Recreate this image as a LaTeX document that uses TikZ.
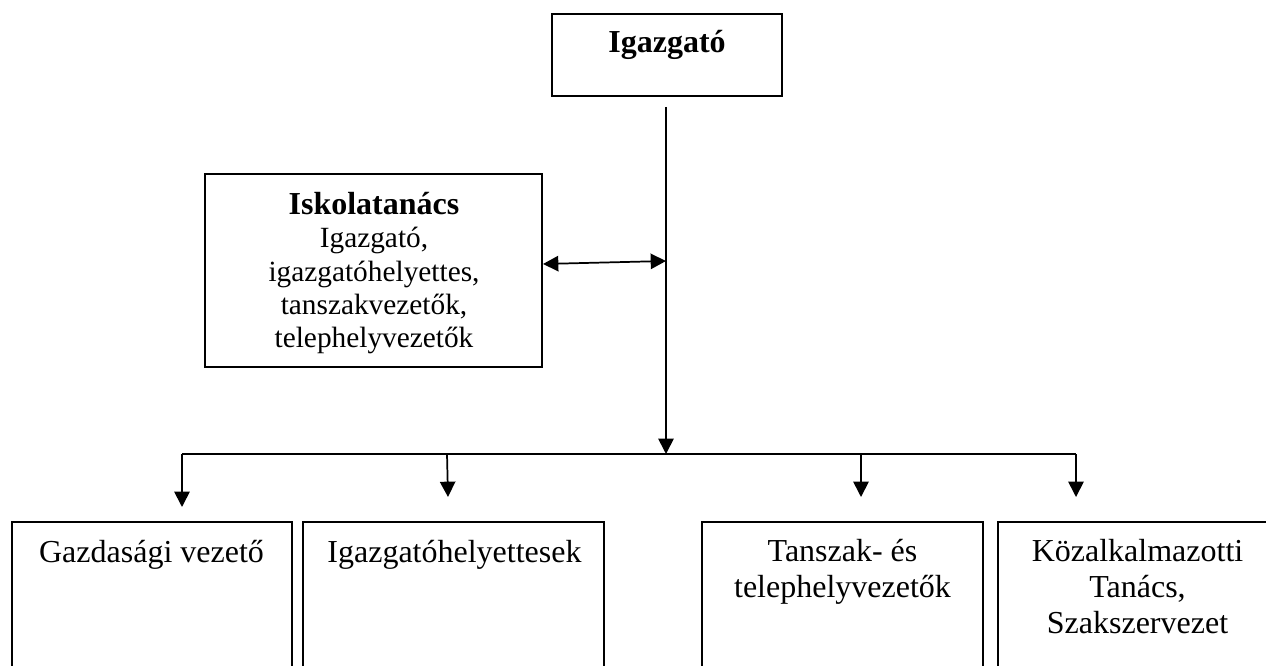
\documentclass[tikz,border=0pt]{standalone}
\usepackage{fontspec}
\setmainfont{Liberation Serif}
\usetikzlibrary{arrows.meta}
\begin{document}
\begin{tikzpicture}[x=0.75pt,y=-0.75pt,
  box/.style={draw,line width=1.1pt,inner sep=0pt},
  conn/.style={line width=1.3pt},
  arr/.style={line width=1.3pt,-{Triangle[width=11.5pt,length=11.5pt]}},
  darr/.style={line width=1.3pt,{Triangle[width=11.5pt,length=11.5pt]}-{Triangle[width=11.5pt,length=11.5pt]}},
  big/.style={font=\fontsize{24}{27}\selectfont,align=center,inner sep=0pt},
  small/.style={font=\fontsize{22}{25}\selectfont,align=center,inner sep=0pt}]
\path[use as bounding box,clip] (0,0) rectangle (1266,666);
\fill[white] (0,0) rectangle (1266,666);
% boxes
\node[box,minimum width=172.5pt,minimum height=61.5pt] (dir) at (667,55) {};
\node[box,minimum width=252.75pt,minimum height=144.75pt] (isk) at (373.5,270.5) {};
\node[box,minimum width=210pt,minimum height=150pt] (b1) at (152,622) {};
\node[box,minimum width=225.75pt,minimum height=150pt] (b2) at (453.5,622) {};
\node[box,minimum width=210.75pt,minimum height=150pt] (b3) at (842.5,622) {};
\node[box,minimum width=209.25pt,minimum height=150pt] (b4) at (1137.5,622) {};
% texts (anchor=base is the baseline of the last line)
\node[big,anchor=base,font=\fontsize{24}{27}\selectfont\bfseries] (tdir) at (667,53) {Igazgató};
\node[small,anchor=base] (tisk) at (374,348) {{\fontsize{24}{25}\selectfont\bfseries Iskolatanács}\\Igazgató,\\igazgatóhelyettes,\\tanszakvezetők,\\telephelyvezetők};
\node[big,anchor=base] (t1) at (151.5,562) {Gazdasági vezető};
\node[big,anchor=base] (t2) at (454.5,562) {Igazgatóhelyettesek};
\node[big,anchor=base] (t3) at (842.5,597) {Tanszak- és\\telephelyvezetők};
\node[big,anchor=base] (t4) at (1137.5,633) {Közalkalmazotti\\Tanács,\\Szakszervezet};
% connector points
\coordinate (vtop) at (666,107);
\coordinate (junc) at (666,454);
\coordinate (dl) at (543,264);
\coordinate (dr) at (666,261);
\coordinate (c1) at (182,454);
\coordinate (c2) at (447,454);
\coordinate (c3) at (861,454);
\coordinate (c4) at (1076,454);
\coordinate (a1) at (182,507);
\coordinate (a2) at (448,497);
\coordinate (a3) at (861,497);
\coordinate (a4) at (1076,497);
% connectors
\draw[arr] (vtop) -- (junc);
\draw[darr] (dl) -- (dr);
\draw[conn] (c1) -- (c4);
\draw[arr] (c1) -- (a1);
\draw[arr] (c2) -- (a2);
\draw[arr] (c3) -- (a3);
\draw[arr] (c4) -- (a4);
\end{tikzpicture}
\end{document}
